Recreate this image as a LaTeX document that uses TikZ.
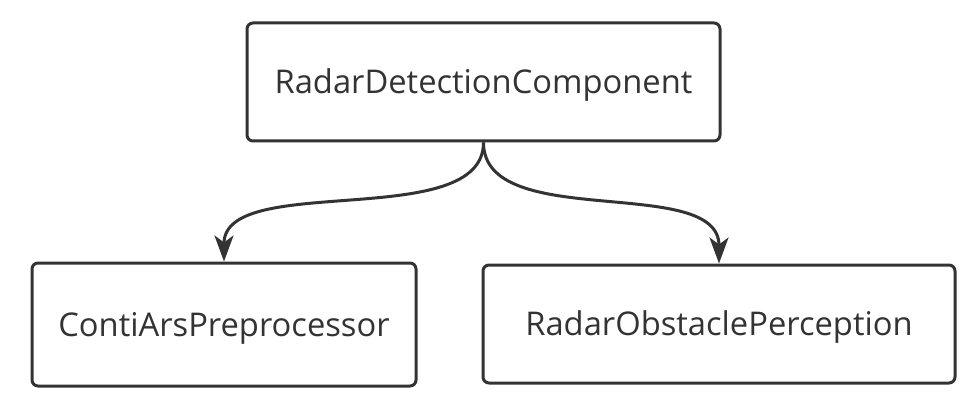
\documentclass[tikz,border=0pt]{standalone}
\usepackage{fontspec}
\setmainfont{Open Sans}
\usetikzlibrary{arrows.meta}
\definecolor{ink}{HTML}{333333}
\begin{document}
\begin{tikzpicture}[x=1pt,y=-1pt,
  box/.style={draw=ink, line width=3pt, rounded corners=6pt, fill=white,
    inner sep=0pt, text=ink, text height=23.4pt, text depth=0pt,
    font=\fontsize{32.7}{38}\selectfont},
  conn/.style={draw=ink, line width=3pt, -{Stealth[length=26pt,width=19pt,inset=7pt]}}]
\useasboundingbox (0,0) rectangle (969,414);
\node[box, minimum width=473pt, minimum height=118pt] (top) at (483.5,82) {RadarDetectionComponent};
\node[box, minimum width=384pt, minimum height=123pt] (left) at (224,324.5) {ContiArsPreprocessor};
\node[box, minimum width=472pt, minimum height=118pt] (right) at (719,324) {RadarObstaclePerception};
\draw[conn] (top.south) .. controls +(0,90) and +(0,-90) .. (left.north);
\draw[conn] (top.south) .. controls +(0,90) and +(0,-90) .. (right.north);
\end{tikzpicture}
\end{document}
